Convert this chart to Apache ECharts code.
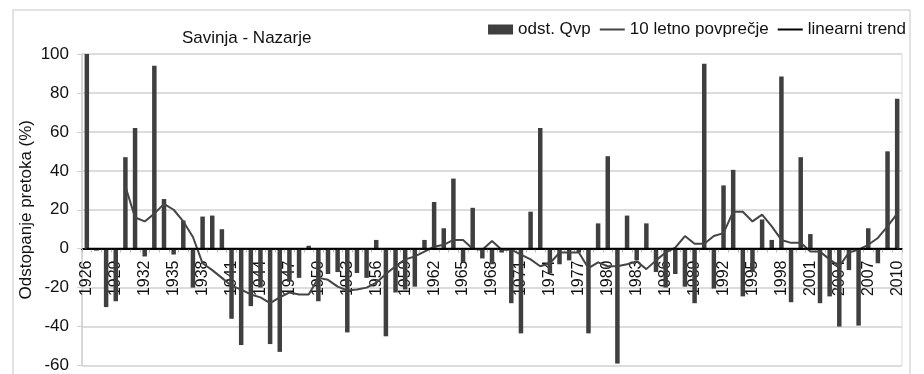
<!DOCTYPE html>
<html>
<head>
<meta charset="utf-8">
<script src="https://cdn.jsdelivr.net/npm/echarts@6/dist/echarts.min.js"></script>
<style>
html,body{margin:0;padding:0;background:#fff;}
#c{width:924px;height:374px;}
</style>
</head>
<body>
<div id="c"></div>
<script>
const years = [];
for (let y = 1926; y <= 2010; y++) years.push(String(y));

const odstQvp = [
  101, -1, -30, -27, 47, 62, -4, 94, 25.5, -3,
  14.5, -20, 16.5, 17, 10, -36, -49.5, -29.5, -20, -49,
  -53, -17, -15, 1.5, -27, -13, -12, -43, -12.5, -15,
  4.5, -45, -22.5, -21, -19.5, 4.5, 24, 10.5, 36, -7,
  21, -5, -8, -2, -28, -43.5, 19, 62, -12.5, -8,
  -6, -2, -43.5, 13, 47.5, -59, 17, -6, 13, -12,
  -20, -13, -19.5, -28, 95, -20.5, 32.5, 40.5, -24.5, -12,
  15, 4.5, 88.5, -27.5, 47, 7.5, -28, -24.5, -40, -11,
  -39.5, 10.5, -7.5, 50, 77
];

const povprecje10 = [
  null, null, null, null, 32, 16, 14, 18, 23, 20,
  14, 6, -7.5, -11, -15, -19, -21, -23.5, -25, -28,
  -25, -22.5, -23.5, -23.5, -15, -16, -19.5, -21.5, -21, -20,
  -17.5, -13, -9, -5.5, -4, -1.5, 1, 2, 4.5, 4.5,
  0, -0.5, 4, -0.5, -0.5, -3, -5.5, -9, -7.5, -2,
  -2, -2, -10, -7, -9, -9, -8, -6.5, -10.5, -6,
  -2, 0.5, 6.5, 2.5, 2.5, 6.5, 8, 19, 19, 14,
  17.5, 11.5, 4.5, 3, 3, -1.5, -1.5, -5.5, -9, -2,
  -0.5, 2, 5.5, 11.5, 18
];

const trendStart = 0;
const trendEnd = 0;
const linearniTrend = years.map((y, i) => i === 0 ? trendStart : (i === years.length - 1 ? trendEnd : null));

const yMin = -60, yMax = 100, yInterval = 20;

const GRID_TOP = 54, GRID_BOTTOM = 8, H = 374;
const plotH = H - GRID_TOP - GRID_BOTTOM;
const zeroOffset = -plotH * (0 - yMin) / (yMax - yMin);

const LINE_ICON = 'path://M0,4H25V6H0Z';
const FONT = '"Liberation Sans", Arial, sans-serif';
const chart = echarts.init(document.getElementById('c'), null, { renderer: 'canvas' });
chart.setOption({
  backgroundColor: '#fff',
  animation: false,
  textStyle: { fontFamily: FONT },
  graphic: [{
    type: 'rect', shape: { x: 13, y: 10, width: 897, height: 370 },
    style: { fill: null, stroke: '#d9d9d9', lineWidth: 1.5 }, silent: true
  }],
  title: {
    text: 'Savinja - Nazarje', left: 182, top: 30, padding: 0,
    textStyle: { fontSize: 17, fontWeight: 'normal', color: '#111', fontFamily: FONT }
  },
  legend: {
    right: 18, top: 21, padding: 0, itemGap: 9, itemWidth: 25, itemHeight: 10,
    symbolKeepAspect: true,
    textStyle: { fontSize: 17, color: '#111', fontFamily: FONT },
    data: [
      { name: 'odst. Qvp', icon: 'rect' },
      { name: '10 letno povprečje', icon: LINE_ICON },
      { name: 'linearni trend', icon: LINE_ICON }
    ]
  },
  grid: {
    left: 82, right: 22, top: GRID_TOP, bottom: GRID_BOTTOM, show: true,
    borderColor: '#d9d9d9', borderWidth: 1
  },
  xAxis: {
    type: 'category', data: years, position: 'bottom', offset: zeroOffset,
    axisLine: { onZero: false, lineStyle: { color: '#000', width: 2 } },
    axisTick: { show: true, interval: 0, length: 4, lineStyle: { color: '#bbb' } },
    axisLabel: { interval: 2, rotate: 90, margin: 12, fontSize: 16, color: '#111', fontFamily: FONT },
    splitLine: { show: false }
  },
  yAxis: {
    type: 'value', min: yMin, max: yMax, interval: yInterval,
    name: 'Odstopanje pretoka (%)', nameLocation: 'middle', nameGap: 47,
    nameMoveOverlap: false,
    nameTextStyle: { fontSize: 17, color: '#111', fontFamily: FONT },
    axisLine: { show: true, lineStyle: { color: '#d0d0d0', width: 1.5 } },
    axisTick: { show: true, length: 5, lineStyle: { color: '#d0d0d0' } },
    axisLabel: { fontSize: 17, color: '#111', margin: 13, fontFamily: FONT },
    splitLine: { show: true, lineStyle: { color: '#dcdcdc', width: 2 } }
  },
  series: [
    {
      name: 'odst. Qvp', type: 'bar', data: odstQvp, barWidth: 4.5,
      itemStyle: { color: '#3f3f3f' }
    },
    {
      name: '10 letno povprečje', type: 'line', data: povprecje10, symbol: 'none',
      lineStyle: { color: '#454545', width: 2 }, itemStyle: { color: '#454545' }
    },
    {
      name: 'linearni trend', type: 'line', data: linearniTrend, symbol: 'none', connectNulls: true,
      lineStyle: { color: '#000', width: 2 }, itemStyle: { color: '#000' }, z: 5
    }
  ]
});
</script>
</body>
</html>
